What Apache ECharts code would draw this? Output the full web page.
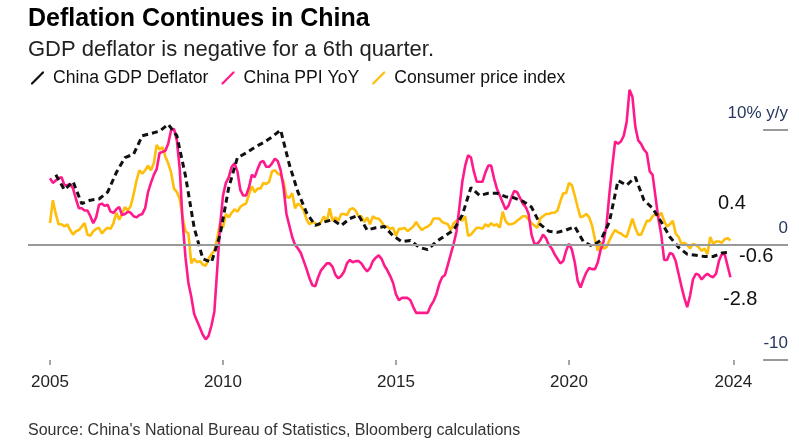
<!DOCTYPE html>
<html>
<head>
<meta charset="utf-8">
<script src="https://cdn.jsdelivr.net/npm/echarts@6/dist/echarts.min.js"></script>
<style>
  html, body { margin: 0; padding: 0; background: #fff; }
  #chart { width: 799px; height: 442px; }
</style>
</head>
<body>
<div id="chart"></div>
<script>
// monthly, Jan 2005 - Sep 2024
var ppi = [
  5.8, 5.4, 5.6, 5.8, 5.9, 5.2, 5.2, 5.3, 4.9, 4.0, 3.2, 3.2,
  3.0, 3.0, 2.5, 1.9, 2.4, 3.5, 3.6, 3.4, 3.5, 2.9, 2.8, 3.1,
  3.3, 2.6, 2.7, 2.9, 2.8, 2.5, 2.4, 2.6, 2.7, 3.2, 4.6, 5.4,
  6.1, 6.6, 8.0, 8.1, 8.2, 8.8, 10.0, 10.1, 9.1, 6.6, 2.0, -1.1,
  -3.3, -4.5, -6.0, -6.6, -7.2, -7.8, -8.2, -7.9, -7.0, -5.8, -2.1, 1.7,
  4.3, 5.4, 5.9, 6.8, 7.1, 6.4, 4.8, 4.3, 4.3, 5.0, 6.1, 5.9,
  6.6, 7.2, 7.3, 6.8, 6.8, 7.1, 7.5, 7.3, 6.5, 5.0, 2.7, 1.7,
  0.7, 0.0, -0.3, -0.7, -1.4, -2.1, -2.9, -3.5, -3.6, -2.8, -2.2, -1.9,
  -1.6, -1.6, -1.9, -2.6, -2.9, -2.7, -2.3, -1.6, -1.3, -1.5, -1.4, -1.4,
  -1.6, -2.0, -2.3, -2.0, -1.4, -1.1, -0.9, -1.2, -1.8, -2.2, -2.7, -3.3,
  -4.3, -4.8, -4.6, -4.6, -4.6, -4.8, -5.4, -5.9, -5.9, -5.9, -5.9, -5.9,
  -5.3, -4.9, -4.3, -3.4, -2.8, -2.6, -1.7, -0.8, 0.1, 1.2, 3.3, 5.5,
  6.9, 7.8, 7.6, 6.4, 5.5, 5.5, 5.5, 6.3, 6.9, 6.9, 5.8, 4.9,
  4.3, 3.7, 3.1, 3.4, 4.1, 4.7, 4.6, 4.1, 3.6, 3.3, 2.7, 0.9,
  0.1, 0.1, 0.4, 0.9, 0.6, 0.0, -0.3, -0.8, -1.2, -1.6, -1.4, -0.5,
  0.1, -0.4, -1.5, -3.1, -3.7, -3.0, -2.4, -2.0, -2.1, -2.1, -1.5, -0.4,
  0.3, 1.7, 4.4, 6.8, 9.0, 8.8, 9.0, 9.5, 10.7, 13.5, 12.9, 10.3,
  9.1, 8.8, 8.3, 8.0, 6.4, 6.1, 4.2, 2.3, 0.9, -1.3, -1.3, -0.7,
  -0.8, -1.4, -2.5, -3.6, -4.6, -5.4, -4.4, -3.0, -2.5, -2.6, -3.0, -2.7,
  -2.5, -2.7, -2.8, -2.5, -1.4, -0.8, -0.8, -1.8, -2.8
];
var cpi = [
  1.9, 3.9, 2.7, 1.8, 1.8, 1.6, 1.8, 1.3, 0.9, 1.2, 1.3, 1.6,
  1.9, 0.9, 0.8, 1.2, 1.4, 1.5, 1.0, 1.3, 1.5, 1.4, 1.9, 2.8,
  2.2, 2.7, 3.3, 3.0, 3.4, 4.4, 5.6, 6.5, 6.2, 6.5, 6.9, 6.5,
  7.1, 8.7, 8.3, 8.5, 7.7, 7.1, 6.3, 4.9, 4.6, 4.0, 2.4, 1.2,
  1.0, -1.6, -1.2, -1.5, -1.4, -1.7, -1.8, -1.2, -0.8, -0.5, 0.6, 1.9,
  1.5, 2.7, 2.4, 2.8, 3.1, 2.9, 3.3, 3.5, 3.6, 4.4, 5.1, 4.6,
  4.9, 4.9, 5.4, 5.3, 5.5, 6.4, 6.5, 6.2, 6.1, 5.5, 4.2, 4.1,
  4.5, 3.2, 3.6, 3.4, 3.0, 2.2, 1.8, 2.0, 1.9, 1.7, 2.0, 2.5,
  2.0, 3.2, 2.1, 2.4, 2.1, 2.7, 2.7, 2.6, 3.1, 3.2, 3.0, 2.5,
  2.5, 2.0, 2.4, 1.8, 2.5, 2.3, 2.3, 2.0, 1.6, 1.6, 1.4, 1.5,
  0.8, 1.4, 1.4, 1.5, 1.2, 1.4, 1.6, 2.0, 1.6, 1.3, 1.5, 1.6,
  1.8, 2.3, 2.3, 2.3, 2.0, 1.9, 1.8, 1.3, 1.9, 2.1, 2.3, 2.1,
  2.5, 0.8, 0.9, 1.2, 1.5, 1.5, 1.4, 1.8, 1.6, 1.9, 1.7, 1.8,
  1.5, 2.9, 2.1, 1.8, 1.8, 1.9, 2.1, 2.3, 2.5, 2.5, 2.2, 1.9,
  1.7, 1.5, 2.3, 2.5, 2.7, 2.7, 2.8, 2.8, 3.0, 3.8, 4.5, 4.5,
  5.4, 5.2, 4.3, 3.3, 2.4, 2.5, 2.7, 2.4, 1.7, 0.5, -0.5, 0.2,
  -0.3, -0.2, 0.4, 0.9, 1.3, 1.1, 1.0, 0.8, 0.7, 1.5, 2.3, 1.5,
  0.9, 0.9, 1.5, 2.1, 2.1, 2.5, 2.7, 2.5, 2.8, 2.1, 1.6, 1.8,
  2.1, 1.0, 0.7, 0.1, 0.2, 0.0, -0.3, 0.1, 0.0, -0.2, -0.5, -0.3,
  -0.8, 0.7, 0.1, 0.3, 0.3, 0.2, 0.5, 0.6, 0.4
];
// quarterly, Q1 2005 - Q3 2024
var gdpDeflator = [
  6.1, 4.8, 5.5, 3.6,
  3.9, 4.0, 4.6, 6.3,
  7.6, 7.9, 9.5, 9.7,
  9.9, 10.5, 9.5, 6.0,
  1.5, -1.2, -1.5, 0.9,
  5.0, 7.6, 8.0, 8.5,
  8.9, 9.4, 10.0, 7.0,
  4.6, 2.8, 1.7, 2.0,
  2.2, 1.7, 2.3, 2.6,
  1.3, 1.5, 1.6, 0.8,
  0.3, 0.4, -0.2, -0.4,
  0.3, 0.8, 1.3, 2.6,
  5.0, 4.3, 4.5, 4.5,
  4.2, 4.1, 3.8, 3.3,
  1.8, 1.2, 1.1, 1.3,
  1.6, 0.3, -0.1, 0.4,
  2.0, 5.6, 5.2, 5.9,
  3.9, 3.2, 2.0, 0.7,
  -0.2, -0.8, -0.9, -1.0,
  -1.0, -0.7, -0.6
];
var startYear = 2005;
var yearTicks = [2005, 2010, 2015, 2020, 2024.75];
var yearLabels = ['2005', '2010', '2015', '2020', '2024'];
var yTicks = [-10, 0, 10];
var yLabels = ['-10', '0', '10% y/y'];
var lastValues = ['0.4', '-0.6', '-2.8'];

var font = "'Liberation Sans', Arial, sans-serif";
var xMin = 2004.364, xMax = 2026.33;

function monthly(arr) {
    return arr.map(function (v, i) { return [startYear + i / 12, v]; });
}
function quarterly(arr) {
    return arr.map(function (v, i) { return [startYear + (3 * i + 2) / 12, v]; });
}

var chart = echarts.init(document.getElementById('chart'), null, { renderer: 'canvas' });

var option = {
    animation: false,
    backgroundColor: '#fff',
    title: {
        text: 'Deflation Continues in China',
        subtext: 'GDP deflator is negative for a 6th quarter.',
        left: 23,
        top: 2,
        itemGap: 7,
        textStyle: { fontFamily: font, fontSize: 25, fontWeight: 'bold', color: '#000' },
        subtextStyle: { fontFamily: font, fontSize: 22, color: '#222' }
    },
    legend: {
        left: 26,
        top: 64,
        itemGap: 13,
        itemWidth: 13,
        itemHeight: 13,
        icon: 'path://M0,13 L1.6,13 L13,1.4 L13,0 L11.4,0 L0,11.6 Z',
        textStyle: { fontFamily: font, fontSize: 17.6, color: '#111', padding: [0, 0, 0, 4] },
        data: [
            { name: 'China GDP Deflator', itemStyle: { color: '#111' } },
            { name: 'China PPI YoY', itemStyle: { color: '#ff1a8c' } },
            { name: 'Consumer price index', itemStyle: { color: '#ffbe0a' } }
        ]
    },
    grid: { left: 28, right: 11, top: 130, bottom: 82 },
    xAxis: {
        type: 'value',
        min: xMin,
        max: xMax,
        axisLine: { show: false, onZero: false },
        splitLine: { show: false },
        axisTick: {
            show: true,
            customValues: yearTicks,
            length: 5,
            lineStyle: { color: '#888', width: 1.5 }
        },
        axisLabel: {
            customValues: yearTicks,
            margin: 14,
            fontFamily: font,
            fontSize: 17,
            color: '#222',
            formatter: function (v) {
                var i = yearTicks.indexOf(v);
                return i >= 0 ? yearLabels[i] : '';
            }
        }
    },
    yAxis: {
        type: 'value',
        position: 'right',
        min: -10,
        max: 10,
        interval: 10,
        axisLine: { show: false },
        axisTick: { show: false },
        splitLine: { show: false },
        axisLabel: {
            inside: true,
            margin: 0,
            align: 'right',
            verticalAlign: 'bottom',
            padding: [0, 0, 8, 0],
            fontFamily: font,
            fontSize: 17,
            color: '#26385e',
            formatter: function (v) {
                var i = yTicks.indexOf(v);
                return i >= 0 ? yLabels[i] : '';
            }
        }
    },
    series: [
        {
            name: 'baseline',
            type: 'line',
            data: [],
            silent: true,
            z: 1,
            markLine: {
                silent: true,
                symbol: 'none',
                label: { show: false },
                lineStyle: { color: '#999', width: 2, type: 'solid' },
                data: [
                    [{ coord: [xMin, 0] }, { coord: [xMax, 0] }],
                    [{ coord: [2025.61, 10] }, { coord: [xMax, 10] }],
                    [{ coord: [2025.61, -10] }, { coord: [xMax, -10] }]
                ]
            }
        },
        {
            name: 'Consumer price index',
            type: 'line',
            data: monthly(cpi),
            showSymbol: false,
            clip: false,
            z: 2,
            lineStyle: { color: '#ffbe0a', width: 2.6 },
            itemStyle: { color: '#ffbe0a' }
        },
        {
            name: 'China PPI YoY',
            type: 'line',
            data: monthly(ppi),
            showSymbol: false,
            clip: false,
            z: 3,
            lineStyle: { color: '#ff1a8c', width: 2.6 },
            itemStyle: { color: '#ff1a8c' }
        },
        {
            name: 'China GDP Deflator',
            type: 'line',
            data: quarterly(gdpDeflator),
            showSymbol: false,
            clip: false,
            z: 4,
            lineStyle: { color: '#111', width: 3, type: [6, 4] },
            itemStyle: { color: '#111' }
        }
    ],
    graphic: [
        { type: 'text', left: 718, top: 193, style: { text: lastValues[0], font: '20px ' + font, fill: '#111' } },
        { type: 'text', left: 739, top: 246, style: { text: lastValues[1], font: '20px ' + font, fill: '#111' } },
        { type: 'text', left: 723, top: 289, style: { text: lastValues[2], font: '20px ' + font, fill: '#111' } },
        {
            type: 'text', left: 28, top: 423,
            style: { text: "Source: China's National Bureau of Statistics, Bloomberg calculations", font: '16px ' + font, fill: '#333' }
        }
    ]
};

chart.setOption(option);
</script>
</body>
</html>
